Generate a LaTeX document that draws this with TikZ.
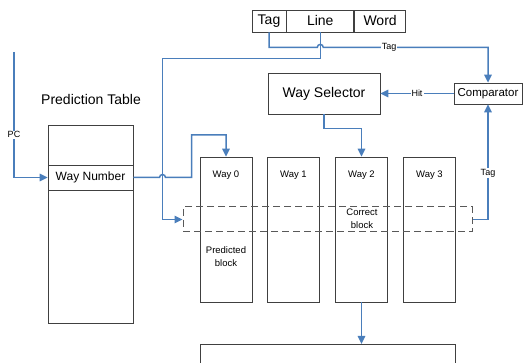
\documentclass[tikz,border=0pt]{standalone}
\usepackage{fontspec}
\setmainfont{Liberation Sans}
\usetikzlibrary{arrows.meta,positioning,calc}
\definecolor{lnblue}{HTML}{4A7EBB}
\definecolor{boxgray}{HTML}{404040}
\definecolor{dashgray}{HTML}{595959}

\begin{document}
\begin{tikzpicture}[x=1pt,y=-1pt,
      box/.style={draw=boxgray,line width=0.8pt,inner sep=0pt,align=center},
      way/.style={box,minimum width=52pt,minimum height=145pt},
      big/.style={font=\fontsize{14}{16}\selectfont},
      lbl/.style={font=\fontsize{9.5}{13}\selectfont,align=center},
      tiny/.style={font=\fontsize{9}{10}\selectfont,fill=white,inner sep=1pt},
      arr/.style={-{Triangle[length=8pt,width=7.5pt]},line width=1.5pt,draw=lnblue}]
    \useasboundingbox (0,0) rectangle (523,363);
    % address
    \node[box,big,minimum width=34pt,minimum height=22pt] (tag) at (269,21) {Tag};
    \node[box,big,minimum width=67pt,minimum height=22pt,right=0pt of tag] (line) {Line};
    \node[box,big,minimum width=51pt,minimum height=22pt,right=0pt of line] (word) {Word};
    % prediction table
    \node[big] (pttitle) at (91,99) {Prediction Table};
    \node[box,minimum width=85pt,minimum height=198pt] (ptab) at (90.5,224) {};
    \node[box,minimum width=85pt,minimum height=25pt,font=\fontsize{12}{14}\selectfont]
      (wn) at (90.5,177.5) {Way Number};
    % ways
    \foreach \i/\x in {0/226,1/293.5,2/361.5,3/429.5} {
      \node[way] (w\i) at (\x,229.5) {};
      \node[lbl,below=11pt of w\i.north] {Way \i};
    }
    \node[draw=dashgray,dash pattern=on 7pt off 4pt,line width=1pt,
      minimum width=289pt,minimum height=25pt] (row) at (327.5,219.5) {};
    \node[lbl] (pred) at (226,257) {Predicted\\block};
    \node[lbl] (corr) at (362,218.5) {Correct\\block};
    \node[box,big,minimum width=112pt,minimum height=41pt] (sel) at (324,93.5) {Way Selector};
    \node[box,minimum width=68pt,minimum height=21pt,font=\fontsize{11.5}{13}\selectfont]
      (comp) at (488,93.5) {Comparator};
    \node[box,minimum width=255pt,minimum height=40pt,anchor=north] (out) at (327.5,344) {};
    % connectors
    \coordinate (pcin) at (14,52);
    \draw[arr] (pcin) |- node[tiny,pos=0.33] {PC} (wn.west);
    \draw[arr] (tag.south) -- ++(0,15) coordinate (t1)
      -- ($(t1 -| line.south)+(-3,0)$) arc (180:360:3)
      -- node[tiny,pos=0.4] {Tag} (t1 -| comp.north) -- (comp.north);
    \draw[arr] (line.south) -- ++(0,26) -| ($(row.west)+(-20,0)$) -- (row.west);
    \draw[arr] (wn.east) -- ($(wn.east -| row.west)+(-23,0)$) arc (180:360:3)
      -- ($(wn.east -| w0.west)+(-8,0)$) -- ++(0,-42.5) -| (w0.north);
    \draw[arr] (comp.west) -- node[tiny] {Hit} (sel.east);
    \draw[arr] (sel.south) -- ++(0,14) -| (w2.north);
    \draw[arr] (row.east) -| node[tiny,pos=0.7] {Tag} (comp.south);
    \draw[arr] (w2.south) -- (w2.south |- out.north);
  \end{tikzpicture}
\end{document}
